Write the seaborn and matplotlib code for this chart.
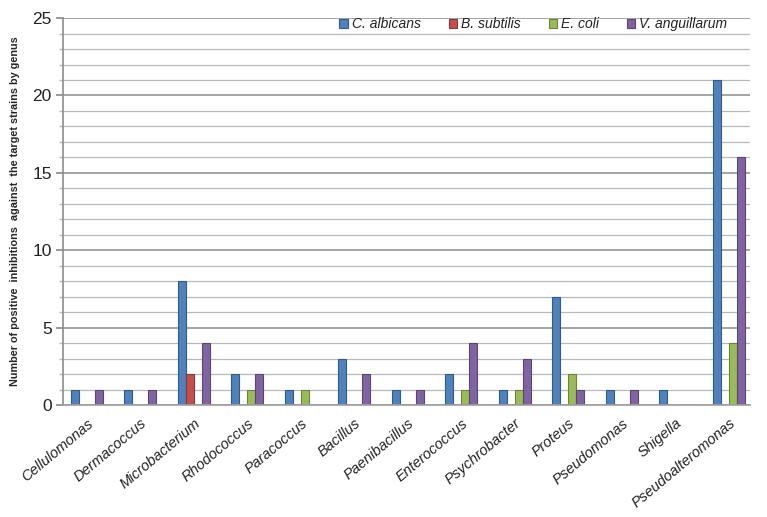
import matplotlib
matplotlib.use("Agg")
import matplotlib.pyplot as plt
import seaborn as sns
import pandas as pd
from matplotlib.ticker import MultipleLocator

genera = ["Cellulomonas", "Dermacoccus", "Microbacterium", "Rhodococcus", "Paracoccus",
          "Bacillus", "Paenibacillus", "Enterococcus", "Psychrobacter", "Proteus",
          "Pseudomonas", "Shigella", "Pseudoalteromonas"]
series = ["C. albicans", "B. subtilis", "E. coli", "V. anguillarum"]
c_albicans = [1, 1, 8, 2, 1, 3, 1, 2, 1, 7, 1, 1, 21]
b_subtilis = [0, 0, 2, 0, 0, 0, 0, 0, 0, 0, 0, 0, 0]
e_coli = [0, 0, 0, 1, 1, 0, 0, 1, 1, 2, 0, 0, 4]
v_anguillarum = [1, 1, 4, 2, 0, 2, 1, 4, 3, 1, 1, 0, 16]
colors = ["#4F81BD", "#C0504D", "#9BBB59", "#8064A2"]

rows = []
for s, vals in zip(series, [c_albicans, b_subtilis, e_coli, v_anguillarum]):
    for g, v in zip(genera, vals):
        rows.append({"Genus": g, "Strain": s, "Count": v})
df = pd.DataFrame(rows)

sns.set_theme(style="white")
plt.rcParams["font.family"] = ["Liberation Sans", "DejaVu Sans"]

fig = plt.figure(figsize=(7.67, 5.17), dpi=100)
ax = fig.add_axes([0.082, 0.2166, 0.896, 0.7484])

sns.barplot(data=df, x="Genus", y="Count", hue="Strain", hue_order=series,
            palette=colors, width=0.6, ax=ax, saturation=1, legend=True)
for p in ax.patches:
    fc = p.get_facecolor()
    p.set_edgecolor((fc[0] * 0.7, fc[1] * 0.7, fc[2] * 0.7, 1))
    p.set_linewidth(0.8)

ax.set_ylim(0, 25)
ax.set_xlim(-0.45, 12.4)
ax.yaxis.set_major_locator(MultipleLocator(5))
ax.yaxis.set_minor_locator(MultipleLocator(1))
ax.grid(which="major", axis="y", color="#8c8c8c", linewidth=1.1)
ax.grid(which="minor", axis="y", color="#b8b8b8", linewidth=0.9)
ax.set_axisbelow(True)
for side in ["top", "right"]:
    ax.spines[side].set_visible(False)
ax.spines["left"].set_color("#8c8c8c")
ax.spines["bottom"].set_color("#a0a0a0")
ax.spines["left"].set_linewidth(1.2)
ax.tick_params(axis="y", which="major", left=True, length=5, color="#8c8c8c",
               labelsize=12.5, labelcolor="#222222", pad=3)
ax.tick_params(axis="y", which="minor", left=True, length=3, color="#b8b8b8")
ax.tick_params(axis="x", bottom=False, pad=2)

ax.set_xlabel("")
ax.set_ylabel("Number of positive  inhibitions  against  the target strains by genus",
              fontsize=7.8, fontweight="bold", labelpad=9)
ax.set_xticks(range(len(genera)))
ax.set_xticklabels(genera, rotation=40, ha="right", rotation_mode="anchor",
                   fontstyle="italic", fontsize=10.5, color="#222222")

leg = ax.legend(loc="upper right", bbox_to_anchor=(0.985, 1.035), ncol=4, frameon=False,
                handlelength=0.6, handleheight=0.6, handletextpad=0.3, columnspacing=2.0,
                fontsize=10)
for t in leg.get_texts():
    t.set_fontstyle("italic")
    t.set_color("#222222")

fig.savefig("out.png", dpi=100)
